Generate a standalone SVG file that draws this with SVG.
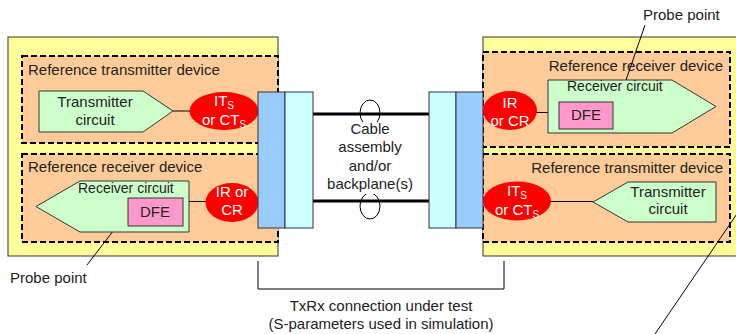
<svg xmlns="http://www.w3.org/2000/svg" width="736" height="334" viewBox="0 0 736 334">
<style>
.yel{fill:#FFFF99;stroke:#333;stroke-width:1}
.org{fill:#FFCC99;stroke:#000;stroke-width:2;stroke-dasharray:6 3}
.grn{fill:#CCFFCC;stroke:#333;stroke-width:1}
.dfe{fill:#FF99CC;stroke:#333;stroke-width:1}
.red{fill:#FF0000;stroke:none}
.blu{fill:#99CCFF;stroke:#333;stroke-width:1}
.cyn{fill:#CCFFFF;stroke:#333;stroke-width:1}
.ln{stroke:#000;stroke-width:1;fill:none}
.thick{stroke:#000;stroke-width:3;fill:none}
text{font-family:"Liberation Sans",Arial,sans-serif;font-size:15px;fill:#222}
.w{fill:#fff}
.c{text-anchor:middle}
.r{text-anchor:end}
.sub{font-size:10px}
</style>
<defs>
<marker id="open" viewBox="0 0 10 10" refX="9" refY="5" markerWidth="9" markerHeight="9" markerUnits="userSpaceOnUse" orient="auto">
<path d="M0,0 L9,5 L0,10" fill="none" stroke="#000" stroke-width="1.2"/>
</marker>
</defs>

<g id="left-board">
<rect class="yel" x="8" y="37" width="270" height="219"/>
</g>
<g id="right-board">
<rect class="yel" x="483" y="37" width="270" height="219"/>
</g>

<g id="left-tx-device">
<rect class="org" x="22" y="56" width="256" height="87"/>
<text x="28" y="75">Reference transmitter device</text>
</g>
<g id="left-rx-device">
<rect class="org" x="22" y="154" width="256" height="88"/>
<text x="28" y="172">Reference receiver device</text>
</g>
<g id="right-rx-device">
<rect class="org" x="483" y="52" width="247" height="95"/>
<text class="r" x="723" y="71">Reference receiver device</text>
</g>
<g id="right-tx-device">
<rect class="org" x="483" y="154" width="247" height="88"/>
<text class="r" x="723" y="173">Reference transmitter device</text>
</g>

<g id="connectors">
<line class="ln" x1="173" y1="111" x2="191" y2="111"/>
<line class="ln" x1="183" y1="201.5" x2="207" y2="201.5"/>
<line class="ln" x1="535" y1="112.5" x2="559" y2="112.5"/>
<line class="ln" x1="549" y1="201.5" x2="593" y2="201.5"/>
<line class="thick" x1="313" y1="114" x2="429" y2="114"/>
<line class="thick" x1="313" y1="201" x2="429" y2="201"/>
<ellipse class="ln" cx="370" cy="113" rx="10" ry="13"/>
<ellipse class="ln" cx="370" cy="206" rx="10" ry="13"/>
<polyline class="ln" points="258,261 258,289 504,289 504,261"/>
<line class="ln" x1="87" y1="265" x2="127" y2="213" marker-end="url(#open)"/>
<line class="ln" x1="645" y1="25" x2="616" y2="109" marker-end="url(#open)"/>
<line class="ln" x1="743" y1="205" x2="655" y2="334"/>
</g>

<g id="left-tx-circuit">
<polygon class="grn" points="39,91 143,91 173,111 143,132 39,132"/>
<text class="c" x="95" y="107">Transmitter</text>
<text class="c" x="95" y="125">circuit</text>
</g>
<g id="left-its">
<ellipse class="red" cx="224" cy="111" rx="34.5" ry="19"/>
<text class="c w" x="224" y="106">IT<tspan class="sub" dy="2.5">S</tspan></text>
<text class="c w" x="224" y="125">or CT<tspan class="sub" dy="2.5">S</tspan></text>
</g>
<g id="left-rx-circuit">
<polygon class="grn" points="36,206.5 80,181 189,181 189,232 80,232"/>
<text x="78" y="193" style="font-size:14px">Receiver circuit</text>
</g>
<g id="left-dfe">
<rect class="dfe" x="128" y="198" width="55" height="28"/>
<text class="c" x="155" y="217">DFE</text>
</g>
<g id="left-ir">
<ellipse class="red" cx="232" cy="202.5" rx="26.5" ry="19.5"/>
<text class="c w" x="232" y="197">IR or</text>
<text class="c w" x="232" y="215">CR</text>
</g>

<g id="left-connector">
<rect class="blu" x="258" y="92" width="27" height="136"/>
<rect class="cyn" x="285" y="92" width="28" height="136"/>
</g>
<g id="right-connector">
<rect class="cyn" x="429" y="92" width="27" height="136"/>
<rect class="blu" x="456" y="92" width="27" height="136"/>
</g>

<g id="cable">
<rect x="328" y="122" width="84" height="72" fill="#fff"/>
<text class="c" x="370" y="134">Cable</text>
<text class="c" x="370" y="152">assembly</text>
<text class="c" x="370" y="171">and/or</text>
<text class="c" x="370" y="189">backplane(s)</text>
</g>

<g id="right-ir">
<ellipse class="red" cx="510" cy="110.5" rx="27" ry="19.5"/>
<text class="c w" x="510" y="108">IR</text>
<text class="c w" x="510" y="126">or CR</text>
</g>
<g id="right-rx-circuit">
<polygon class="grn" points="548,80 672,80 716,106.5 672,133 548,133"/>
<text x="567" y="91" style="font-size:14px">Receiver circuit</text>
</g>
<g id="right-dfe">
<rect class="dfe" x="559" y="102" width="54" height="27"/>
<text class="c" x="586" y="120">DFE</text>
</g>
<g id="right-its">
<ellipse class="red" cx="517" cy="201" rx="34" ry="19.5"/>
<text class="c w" x="517" y="196">IT<tspan class="sub" dy="2.5">S</tspan></text>
<text class="c w" x="517" y="215">or CT<tspan class="sub" dy="2.5">S</tspan></text>
</g>
<g id="right-tx-circuit">
<polygon class="grn" points="593,202 628,182 716,182 716,222 628,222"/>
<text class="c" x="668" y="197">Transmitter</text>
<text class="c" x="668" y="214">circuit</text>
</g>

<g id="labels">
<text x="643" y="20">Probe point</text>
<text x="10" y="283">Probe point</text>
<text class="c" x="381" y="311">TxRx connection under test</text>
<text class="c" x="381" y="329">(S-parameters used in simulation)</text>
</g>
</svg>
